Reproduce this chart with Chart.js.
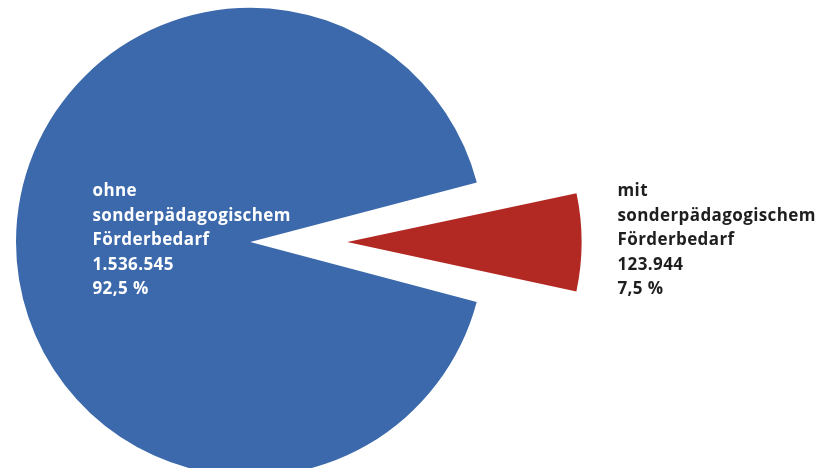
<!DOCTYPE html>
<html>
<head>
<meta charset="utf-8">
<script src="https://cdn.jsdelivr.net/npm/chart.js@4/dist/chart.umd.min.js"></script>
<style>
  body { margin: 0; background: #fff; }
</style>
</head>
<body>
<canvas id="pieChart" width="817" height="468"></canvas>
<script>
'use strict'

var categories = ['ohne sonderpädagogischem Förderbedarf', 'mit sonderpädagogischem Förderbedarf'];
var labelLines = [['ohne', 'sonderpädagogischem', 'Förderbedarf'], ['mit', 'sonderpädagogischem', 'Förderbedarf']];
var pupils = [1536545, 123944];
var sliceColors = ['#3c69ab', '#b22822'];

function formatThousands(n) {
  return String(n).replace(/\B(?=(\d{3})+(?!\d))/g, '.');
}

function formatPercent(n, total) {
  return (n / total * 100).toFixed(1).replace('.', ',') + ' %';
}

var total = pupils.reduce(function (a, b) { return a + b; }, 0);

// text blocks next to / inside the slices
var sliceLabels = {
  id: 'sliceLabels',
  afterDatasetsDraw: function (chart) {
    var ctx = chart.ctx;
    var arcs = chart.getDatasetMeta(0).data;
    var cx = arcs[0].x;
    var cy = arcs[0].y;
    ctx.save();
    ctx.font = 'bold 17px "Open Sans"';
    ctx.letterSpacing = '0.4px';
    ctx.textBaseline = 'alphabetic';
    ctx.textAlign = 'left';
    var spots = [
      { x: cx - 192, color: '#ffffff' },
      { x: cx + 333, color: '#1e1e1e' }
    ];
    for (var i = 0; i < pupils.length; i++) {
      var lines = labelLines[i].concat([formatThousands(pupils[i]), formatPercent(pupils[i], total)]);
      ctx.fillStyle = spots[i].color;
      for (var j = 0; j < lines.length; j++) {
        ctx.fillText(lines[j], spots[i].x, cy - 46 + j * 24.5);
      }
    }
    ctx.restore();
  }
};

var pie = new Chart(document.getElementById('pieChart'), {
  type: 'pie',
  data: {
    labels: categories,
    datasets: [{
      data: pupils,
      backgroundColor: sliceColors,
      borderWidth: 0,
      offset: [137, 251]
    }]
  },
  options: {
    responsive: false,
    animation: false,
    events: [],
    rotation: 103.5,
    radius: 200,
    layout: { padding: { left: 0, right: 248, top: 16, bottom: 0 } },
    plugins: {
      legend: { display: false },
      tooltip: { enabled: false }
    }
  },
  plugins: [sliceLabels]
});
</script>
</body>
</html>
